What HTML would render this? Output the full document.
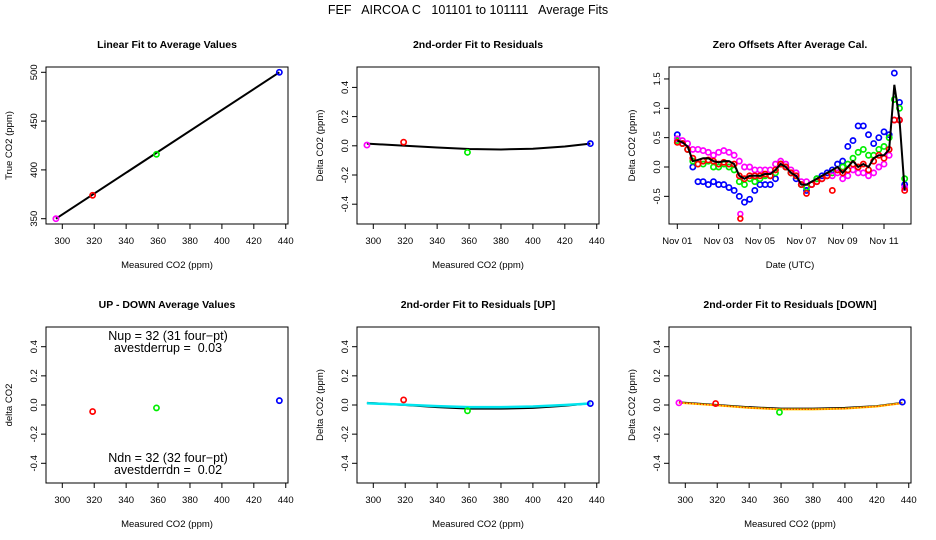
<!DOCTYPE html>
<html><head><meta charset="utf-8"><style>
html,body{margin:0;padding:0;background:#fff;}
svg{display:block;font-family:"Liberation Sans",sans-serif;}
#mt{white-space:pre;}
</style></head><body>
<svg id="c" width="936" height="540" viewBox="0 0 936 540">
<text id="mt" x="468" y="14" text-anchor="middle" font-size="12.5" xml:space="preserve">FEF   AIRCOA C   101101 to 101111   Average Fits</text>
</svg>
<script>
// ---- data ----
const calCO2 = [296, 319, 359, 436];
const calColors = ['#ff00ff', '#ff0000', '#00ee00', '#0000ff'];
const trueCO2 = [350, 374, 416, 500];
const resid = [0.005, 0.025, -0.045, 0.015];
const fitX = [296, 320, 340, 360, 380, 400, 420, 436];
const fitY = [0.015, 0.0, -0.012, -0.022, -0.025, -0.02, -0.005, 0.015];
const udX = [319, 359, 436];
const udY = [-0.045, -0.02, 0.03];
const udColors = ['#ff0000', '#00ee00', '#0000ff'];
const residUp = [0.01, 0.035, -0.04, 0.01];
const fitUpY = [0.015, 0.0, -0.015, -0.025, -0.025, -0.02, -0.005, 0.012];
const fitUpCyan = [0.012, 0.002, -0.008, -0.015, -0.015, -0.01, 0.0, 0.01];
const residDn = [0.015, 0.01, -0.05, 0.02];
const fitDnY = [0.018, 0.0, -0.015, -0.025, -0.025, -0.02, -0.008, 0.015];
const fitDnOr = [0.015, -0.003, -0.02, -0.03, -0.03, -0.025, -0.01, 0.012];
const tDays = [0,0.25,0.5,0.75,1,1.25,1.5,1.75,2,2.25,2.5,2.75,3,3.25,3.5,3.75,4,4.25,4.5,4.75,5,5.25,5.5,5.75,6,6.25,6.5,6.75,7,7.25,7.5,7.75,8,8.25,8.5,8.75,9,9.25,9.5,9.75,10,10.25,10.5,10.75,11];
const zMag = [.48,.45,.4,.3,.3,.28,.25,.2,.25,.28,.25,.2,.1,0,0,-.05,-.05,-.05,-.05,.05,.1,.05,-.05,-.1,-.25,-.25,-.3,-.25,-.2,-.15,-.15,-.1,-.2,-.15,-.05,-.1,-.1,-.15,-.1,0,.05,.2,.8,.8,-.35];
const zRed = [.42,.4,.3,.15,.05,.1,.12,.1,.05,.08,.05,.05,-.15,-.2,-.15,-.15,-.15,-.12,-.15,-.05,.05,0,-.1,-.15,-.3,-.45,-.3,-.25,-.2,-.15,-.4,-.05,-.1,-.05,.05,0,.05,-.05,.1,.2,.15,.3,.8,.8,-.4];
const zGreen = [.45,.4,.3,.1,.05,.05,.1,0,0,.05,0,-.05,-.25,-.3,-.2,-.25,-.2,-.15,-.15,-.1,.05,0,-.1,-.15,-.3,-.35,-.3,-.2,-.2,-.15,-.1,-.05,0,.05,.15,.25,.3,.2,.2,.3,.35,.5,1.15,1,-.2];
const zBlue = [.55,.4,.3,0,-.25,-.25,-.3,-.25,-.3,-.3,-.35,-.4,-.5,-.6,-.55,-.4,-.3,-.3,-.3,-.2,.05,0,-.1,-.2,-.3,-.4,-.3,-.2,-.15,-.1,-.05,.05,.1,.35,.45,.7,.7,.55,.4,.5,.6,.55,1.6,1.1,-.3];
const zMean = [.45,.42,.35,.1,.12,.15,.15,.1,.08,.1,.1,.05,-.15,-.2,-.15,-.15,-.15,-.12,-.12,-.05,.05,0,-.1,-.15,-.3,-.3,-.25,-.2,-.15,-.1,-.05,0,-.1,0,.1,0,.05,0,.15,.2,.2,.3,1.4,.8,-.4];
const outT = [3.05, 3.05];
const outV = [-0.8, -0.88];
const outColors = ['#ff00ff', '#ff0000'];
const co2Ticks = [300,320,340,360,380,400,420,440];
const resTicks = [-0.4,-0.2,0.0,0.2,0.4];
const trueTicks = [350,400,450,500];
const zTicks = [-0.5,0.0,0.5,1.0,1.5];
const dateTicks = [0,2,4,6,8,10];
const dateLabels = ['Nov 01','Nov 03','Nov 05','Nov 07','Nov 09','Nov 11'];

const svg = document.getElementById('c');
const NS = 'http://www.w3.org/2000/svg';
function mk(tag, attrs, parent){ const e=document.createElementNS(NS,tag); for(const k in attrs) e.setAttribute(k,attrs[k]); (parent||svg).appendChild(e); return e; }

const W = 242;
function co2X(L){ return v => L + 16.3 + (v-300)*1.596; }
function resY(T){ return v => T + 78.8 - v*146; }

function frame(L, T, H, title, xlab, ylab, name){
  const g = mk('g', {});
  
  
  const b = mk('rect', {x:L, y:T, width:W, height:H, fill:'none', stroke:'#000', 'stroke-width':1}, g);
  
  
  const t = mk('text', {x:L+W/2, y:T-19, 'text-anchor':'middle', 'font-size':10.5, 'font-weight':'bold'}, g);
  t.textContent = title;
  
  
  const xl = mk('text', {x:L+W/2, y:T+H+44, 'text-anchor':'middle', 'font-size':9.5}, g);
  xl.textContent = xlab;
  
  
  const yl = mk('text', {x:0, y:0, 'text-anchor':'middle', 'font-size':9.5, transform:`translate(${L-34},${T+H/2}) rotate(-90)`}, g);
  yl.textContent = ylab;
  
  
  return g;
}
function xAxis(g, L, T, H, ticks, labels, fx){
  ticks.forEach((v,i)=>{
    const x = fx(v);
    mk('line', {x1:x, x2:x, y1:T+H, y2:T+H+5, stroke:'#000'}, g);
    const tx = mk('text', {x:x, y:T+H+20, 'text-anchor':'middle', 'font-size':9.5}, g);
    tx.textContent = labels[i];
    
    
  });
}
function yAxis(g, L, ticks, labels, fy){
  ticks.forEach((v,i)=>{
    const y = fy(v);
    mk('line', {x1:L-5, x2:L, y1:y, y2:y, stroke:'#000'}, g);
    const tx = mk('text', {x:0, y:0, 'text-anchor':'middle', 'font-size':9.5, transform:`translate(${L-9},${y}) rotate(-90)`}, g);
    tx.textContent = labels[i];
    
    
  });
}
function pt(g, x, y, color, r){
  const c = mk('circle', {cx:x, cy:y, r:r||2.6, fill:'none', stroke:color, 'stroke-width':1.7}, g);
  
  
}
function poly(g, xs, ys, fx, fy, color, w, dash){
  const p = mk('polyline', {points: xs.map((x,i)=>fx(x)+','+fy(ys[i])).join(' '), fill:'none', stroke:color, 'stroke-width':w||2}, g);
  if (dash) p.setAttribute('stroke-dasharray', dash);
  
  
}
const resLabels = resTicks.map(v=>v.toFixed(1));
const co2Labels = co2Ticks.map(String);

// Panel 1
(function(){
  const L=46,T=67,H=157;
  const g = frame(L,T,H,'Linear Fit to Average Values','Measured CO2 (ppm)','True CO2 (ppm)','linear-fit-panel');
  const fx = co2X(L), fy = v => 218.7 - (v-350)*0.976;
  xAxis(g,L,T,H,co2Ticks,co2Labels,fx);
  yAxis(g,L,trueTicks,trueTicks.map(String),fy);
  poly(g,[calCO2[0],calCO2[3]],[trueCO2[0],trueCO2[3]],fx,fy,'#000',2);
  calCO2.forEach((v,i)=>pt(g,fx(v),fy(trueCO2[i]),calColors[i]));
})();
// Panel 2
(function(){
  const L=357,T=67,H=157;
  const g = frame(L,T,H,'2nd-order Fit to Residuals','Measured CO2 (ppm)','Delta CO2 (ppm)','residual-fit-panel');
  const fx = co2X(L), fy = resY(T);
  xAxis(g,L,T,H,co2Ticks,co2Labels,fx);
  yAxis(g,L,resTicks,resLabels,fy);
  poly(g,fitX,fitY,fx,fy,'#000',2);
  calCO2.forEach((v,i)=>pt(g,fx(v),fy(resid[i]),calColors[i]));
})();
// Panel 3
(function(){
  const L=669,T=67,H=157;
  const g = frame(L,T,H,'Zero Offsets After Average Cal.','Date (UTC)','Delta CO2 (ppm)','zero-offsets-panel');
  const fx = d => L + 8.3 + d*20.67, fy = v => 167 - v*58.7;
  xAxis(g,L,T,H,dateTicks,dateLabels,fx);
  yAxis(g,L,zTicks,zTicks.map(v=>v.toFixed(1)),fy);
  const series = [[zBlue,'#0000ff'],[zGreen,'#00ee00'],[zMag,'#ff00ff'],[zRed,'#ff0000']];
  series.forEach(([arr,col])=>{
    tDays.forEach((t,i)=>pt(g,fx(t),fy(arr[i]),col,2.6));
  });
  outT.forEach((t,i)=>pt(g,fx(t),fy(outV[i]),outColors[i],2.4));
  poly(g,tDays,zMean,fx,fy,'#000',2);
})();
// Panel 4
(function(){
  const L=46,T=327,H=156;
  const g = frame(L,T,H,'UP - DOWN Average Values','Measured CO2 (ppm)','delta CO2','up-down-panel');
  const fx = co2X(L), fy = v => 405 - v*145.75;
  xAxis(g,L,T,H,co2Ticks,co2Labels,fx);
  yAxis(g,L,resTicks,resLabels,fy);
  udX.forEach((v,i)=>pt(g,fx(v),fy(udY[i]),udColors[i]));
  [['Nup = 32 (31 four\u2212pt)',340],['avestderrup =  0.03',352],['Ndn = 32 (32 four\u2212pt)',462],['avestderrdn =  0.02',474]].forEach(([s,y])=>{
    const t = mk('text',{x:L+W/2+1,y:y,'text-anchor':'middle','font-size':12.5,'xml:space':'preserve'},g);
    t.style.whiteSpace = 'pre';
    t.textContent = s;
    
    
  });
})();
// Panel 5
(function(){
  const L=357,T=327,H=156;
  const g = frame(L,T,H,'2nd-order Fit to Residuals [UP]','Measured CO2 (ppm)','Delta CO2 (ppm)','residual-up-panel');
  const fx = co2X(L), fy = v => 405 - v*145.75;
  xAxis(g,L,T,H,co2Ticks,co2Labels,fx);
  yAxis(g,L,resTicks,resLabels,fy);
  poly(g,fitX,fitUpY,fx,fy,'#000',2);
  poly(g,fitX,fitUpCyan,fx,fy,'#00e5ee',2.5);
  calCO2.forEach((v,i)=>{ if(i>0) pt(g,fx(v),fy(residUp[i]),calColors[i]); });
})();
// Panel 6
(function(){
  const L=669,T=327,H=156;
  const g = frame(L,T,H,'2nd-order Fit to Residuals [DOWN]','Measured CO2 (ppm)','Delta CO2 (ppm)','residual-down-panel');
  const fx = co2X(L), fy = v => 405 - v*145.75;
  xAxis(g,L,T,H,co2Ticks,co2Labels,fx);
  yAxis(g,L,resTicks,resLabels,fy);
  poly(g,fitX,fitDnY,fx,fy,'#000',2);
  poly(g,fitX,fitDnOr,fx,fy,'#ffcc00',2);
  poly(g,fitX,fitDnOr,fx,fy,'#ff0000',1.2,'1 2');
  calCO2.forEach((v,i)=>pt(g,fx(v),fy(residDn[i]),calColors[i]));
})();
</script>
</body></html>
